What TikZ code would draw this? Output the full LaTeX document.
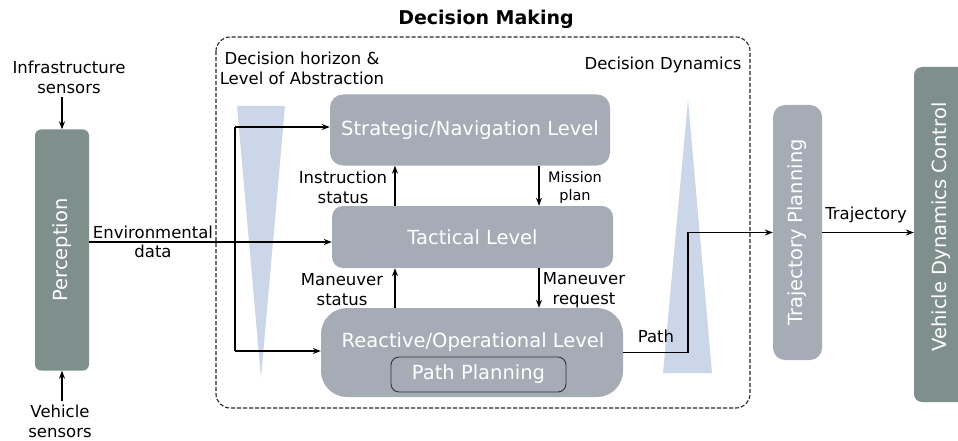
\documentclass[tikz,border=0pt]{standalone}
\usepackage{fontspec}
\setmainfont{DejaVu Sans}
\usetikzlibrary{arrows.meta}
\definecolor{levelgrey}{HTML}{A5ACB6}
\definecolor{sidegreen}{HTML}{7F8F8C}
\definecolor{wedgeblue}{HTML}{CBD6E8}
\newcommand{\boxfont}{\fontsize{19.5}{23}\selectfont}
\newcommand{\labfont}{\fontsize{16.5}{20}\selectfont}
\newcommand{\smallfont}{\fontsize{14.5}{18}\selectfont}
\begin{document}
\begin{tikzpicture}[x=1pt,y=-1pt,
  lvl/.style={fill=levelgrey,draw=none,text=white,font=\boxfont,inner sep=0pt},
  side/.style={fill=sidegreen,draw=none,text=white,font=\boxfont,inner sep=0pt},
  lab/.style={font=\labfont,align=center,inner sep=0pt},
  conn/.style={line width=1.2pt,draw=black},
  arr/.style={conn,-{Stealth[length=8pt,width=6pt]}},
  wedge/.style={fill=wedgeblue,draw=none}]
\useasboundingbox (0,0) rectangle (958,441);

% decision making frame
\draw[line width=1.1pt,draw=black!85,rounded corners=14pt,dash pattern=on 4pt off 2pt] (216,37) rectangle (750,408);
\node[font=\fontsize{19}{22}\selectfont\bfseries,inner sep=0pt] (title) at (486,19) {Decision Making};
\node[lab] (horizon) at (302,68) {Decision horizon \&\\Level of Abstraction};
\node[lab] (dynamics) at (663,65) {Decision Dynamics};

% wedges for horizon and dynamics
\fill[wedge] (237,106) -- (285,106) -- (261,378) -- cycle;
\fill[wedge] (688,100) -- (712,373) -- (663,373) -- cycle;

% outer blocks
\node[side,rounded corners=6pt,minimum width=54pt,minimum height=241pt] (perc) at (62,250) {\rotatebox{90}{Perception}};
\node[lvl,rounded corners=12pt,minimum width=49pt,minimum height=255pt] (traj) at (797.5,232.5) {\rotatebox{90}{Trajectory Planning}};
\node[side,rounded corners=8pt,minimum width=54pt,minimum height=335pt] (vdc) at (941,234.5) {\rotatebox{90}{\hspace{15pt}Vehicle Dynamics Control}};

% decision levels
\node[lvl,rounded corners=13pt,minimum width=280pt,minimum height=71pt] (strat) at (470,130) {Strategic/Navigation Level};
\node[lvl,rounded corners=11pt,minimum width=281pt,minimum height=62pt] (tact) at (472.5,237) {Tactical Level};
\node[lvl,rounded corners=26pt,minimum width=302pt,minimum height=89pt] (react) at (472,352.5) {};
\node[text=white,font=\boxfont,inner sep=0pt] (reacttext) at (473,342) {Reactive/Operational Level};
\node[lvl,draw=black!80,line width=0.9pt,rounded corners=8pt,minimum width=175pt,minimum height=35pt] (pathplan) at (478.5,374.5) {Path Planning};

% sensor inputs
\node[lab] (infra) at (69,77) {Infrastructure\\sensors};
\node[lab] (veh) at (60,421) {Vehicle\\sensors};
\draw[arr] (perc.north |- infra.south) ++(0,3) -- (perc.north);
\draw[arr] (perc.south |- veh.north) ++(0,-3) -- (perc.south);

% environmental data and its distribution to the levels
\coordinate (envy) at (0,242);
\coordinate (forktop) at (235,127);
\coordinate (forkbot) at (235,351);
\draw[arr] (perc.east |- envy) -- (tact.west |- envy);
\node[lab] (envlab) at (153,242) {Environmental\\[-1pt]data};
\draw[conn] (forktop) -- (forkbot);
\draw[arr] (forktop) -- (strat.west |- forktop);
\draw[arr] (forkbot) -- (react.west |- forkbot);

% exchanges between levels
\coordinate (xl) at (395,0);
\coordinate (xr) at (539,0);
\draw[arr] (tact.north -| xl) -- (strat.south -| xl);
\draw[arr] (strat.south -| xr) -- (tact.north -| xr);
\draw[arr] (react.north -| xl) -- (tact.south -| xl);
\draw[arr] (tact.south -| xr) -- (react.north -| xr);
\node[lab] (instr) at (343,187) {Instruction\\status};
\node[font=\smallfont,align=center,inner sep=0pt] (mission) at (575,187) {Mission\\plan};
\node[lab] (mstat) at (342,290) {Maneuver\\status};
\node[lab] (mreq) at (584,290) {Maneuver\\request};

% outputs
\coordinate (pathx) at (688,0);
\draw[arr] (react.east) -- (react.east -| pathx) |- (traj.west);
\node[lab] (pathlab) at (656,336) {Path};
\draw[arr] (traj.east) -- (vdc.west |- traj.east);
\node[lab] (trajlab) at (866,215) {Trajectory};
\end{tikzpicture}
\end{document}
